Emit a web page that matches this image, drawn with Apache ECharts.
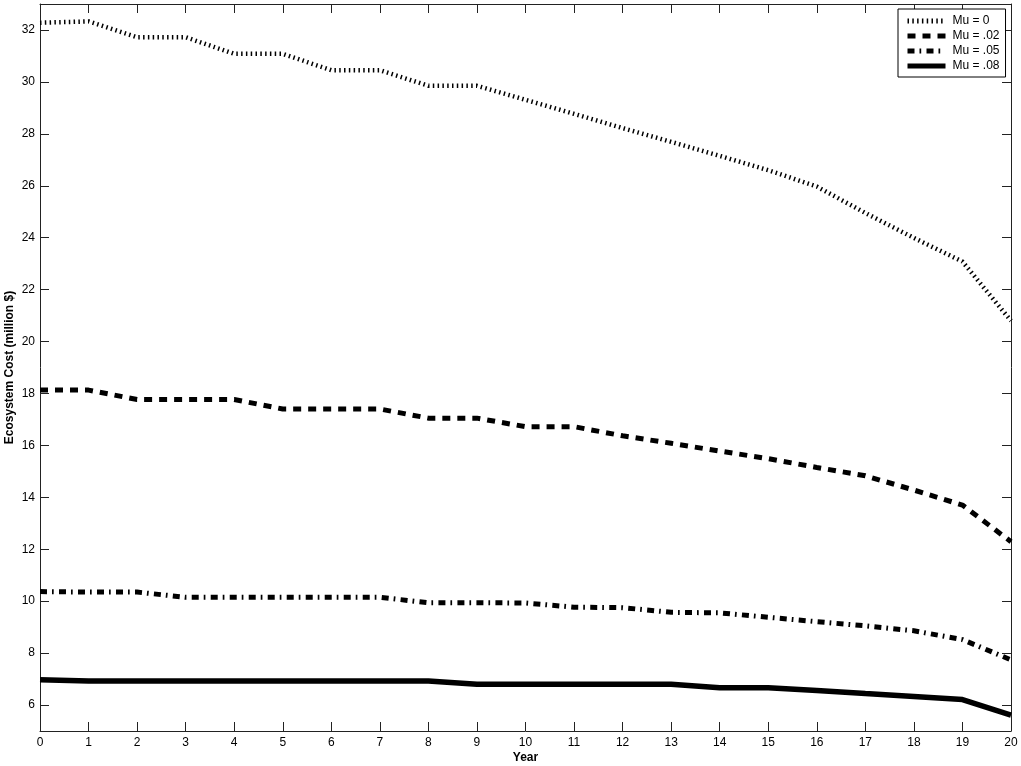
<!DOCTYPE html>
<html>
<head>
<meta charset="utf-8">
<script src="https://cdn.jsdelivr.net/npm/echarts@6/dist/echarts.min.js"></script>
<style>
html,body{margin:0;padding:0;background:#fff;}
#chart{width:1021px;height:766px;}
</style>
</head>
<body>
<div id="chart"></div>
<script>
const years = [0,1,2,3,4,5,6,7,8,9,10,11,12,13,14,15,16,17,18,19,20];
const yTicks = [6,8,10,12,14,16,18,20,22,24,26,28,30,32];
const seriesNames = ['Mu = 0','Mu = .02','Mu = .05','Mu = .08'];
const mu0  = [32.28,32.33,31.72,31.72,31.08,31.08,30.45,30.45,29.85,29.85,29.31,28.77,28.22,27.69,27.15,26.6,25.97,24.95,23.99,23.08,20.8];
const mu02 = [18.13,18.13,17.77,17.77,17.77,17.4,17.4,17.4,17.05,17.05,16.72,16.72,16.37,16.08,15.78,15.49,15.15,14.83,14.28,13.7,12.29];
const mu05 = [10.37,10.35,10.35,10.15,10.15,10.15,10.15,10.15,9.94,9.94,9.93,9.77,9.75,9.57,9.55,9.38,9.21,9.05,8.86,8.52,7.74];
const mu08 = [6.97,6.93,6.93,6.93,6.93,6.93,6.93,6.93,6.93,6.8,6.8,6.8,6.8,6.8,6.67,6.67,6.56,6.44,6.33,6.21,5.61];

const pair = arr => years.map((y,i)=>[y,arr[i]]);
const font = 'Liberation Sans, Arial, sans-serif';
const axCol = '#222';

const chart = echarts.init(document.getElementById('chart'));
const styles = [
  {width:4.5, type:[1.5,3.3]},
  {width:5, type:[8,7]},
  {width:5, type:[7,5,1.7,5.3]},
  {width:5.5, type:'solid'}
];
const datas = [mu0, mu02, mu05, mu08];

const baseY = {
  type:'value', min:5, max:33,
  splitLine:{show:false},
  axisLine:{show:true, onZero:false, lineStyle:{color:axCol, width:1}},
  axisTick:{show:true, inside:true, length:9, customValues:yTicks, lineStyle:{color:axCol}},
};
const baseX = {
  type:'value', min:0, max:20, interval:1,
  splitLine:{show:false},
  axisLine:{show:true, onZero:false, lineStyle:{color:axCol, width:1}},
  axisTick:{show:true, inside:true, length:9, lineStyle:{color:axCol}},
};

chart.setOption({
  animation:false,
  backgroundColor:'#fff',
  grid:{left:40, right:10, top:4, bottom:35, containLabel:false, outerBoundsMode:'none'},
  legend:{
    orient:'vertical', left:898, top:9,
    itemWidth:38, itemHeight:12, itemGap:3,
    padding:[6,6,5,7],
    borderColor:'#000', borderWidth:1, backgroundColor:'#fff',
    lineStyle:{width:5},
    itemStyle:{opacity:0},
    textStyle:{fontFamily:font, fontSize:12, color:'#000', width:49, padding:[0,0,0,2]},
    data:seriesNames
  },
  xAxis:[
    Object.assign({}, baseX, {
      position:'bottom',
      name:'Year', nameLocation:'middle', nameGap:21, nameMoveOverlap:false,
      nameTextStyle:{fontFamily:font, fontSize:12, fontWeight:'bold', color:'#000'},
      axisLabel:{show:true, margin:6, fontFamily:font, fontSize:12, color:'#000'}
    }),
    Object.assign({}, baseX, {position:'top', axisLabel:{show:false}})
  ],
  yAxis:[
    Object.assign({}, baseY, {
      position:'left',
      name:'Ecosystem Cost (million $)', nameLocation:'middle', nameGap:24, nameMoveOverlap:false,
      nameTextStyle:{fontFamily:font, fontSize:12, fontWeight:'bold', color:'#000'},
      axisLabel:{show:true, margin:5, customValues:yTicks, fontFamily:font, fontSize:12, color:'#000'}
    }),
    Object.assign({}, baseY, {position:'right', axisLabel:{show:false}})
  ],
  series: seriesNames.map((n,i)=>({
    name:n, type:'line', data:pair(datas[i]),
    symbol:'none', showSymbol:false, smooth:false,
    lineStyle:{color:'#000', width:styles[i].width, type:styles[i].type, cap:'butt'},
    itemStyle:{color:'#000'},
    emphasis:{disabled:true}
  }))
});
</script>
</body>
</html>
